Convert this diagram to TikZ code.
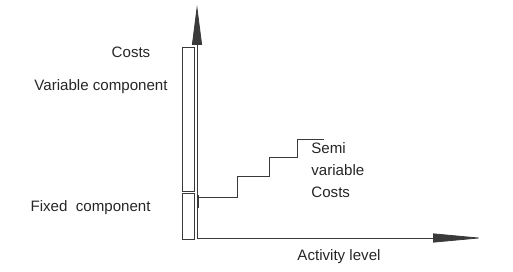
\documentclass[tikz,border=0pt]{standalone}
\usepackage{fontspec}
\setmainfont{Liberation Sans}
\usetikzlibrary{arrows.meta}
\definecolor{lineGray}{HTML}{3A3A3A}

\begin{document}
\begin{tikzpicture}[x=1pt, y=1pt, line width=0.8pt, color=lineGray,
    font=\fontsize{15.1}{22}\selectfont,
    lbl/.style={inner sep=0pt, text=black!85}]
  \useasboundingbox (0,0) rectangle (513,271);
  % axes
  \coordinate (origin) at (197,33);
  \coordinate (costTip) at (197,266);
  \coordinate (levelTip) at (483,33);
  \draw[-{Triangle[length=40pt,width=10pt]}] (origin) -- (costTip);
  \draw[-{Triangle[length=50pt,width=9pt]}] (origin) -- (levelTip);
  % variable and fixed components
  \draw (182,224) rectangle (194,80);
  \draw (182,78) rectangle (194,32);
  % semi variable costs
  \draw (198,74) -| (237,95) -| (269,114) -| (297,132) -- (324,132);
  \draw[line width=1.3pt] (198,76) -- (198,63);
  % labels
  \node[lbl] (costs) at (131,219) {Costs};
  \node[lbl, anchor=east] (varComp) at (168,184) {Variable component};
  \node[lbl, anchor=east] (fixedComp) at (151,63) {Fixed\ \ component};
  \node[lbl, anchor=north west, align=left] (semiVar) at (311,129) {Semi\\variable\\Costs};
  \node[lbl] (activity) at (339,14) {Activity level};
\end{tikzpicture}
\end{document}
